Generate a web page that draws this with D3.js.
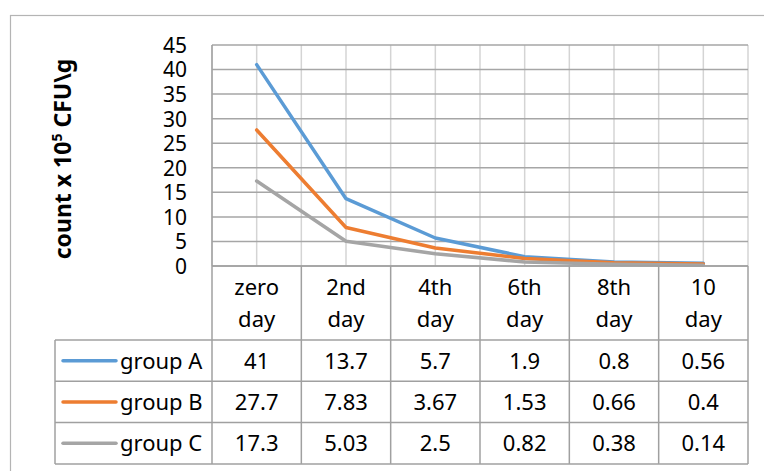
<!DOCTYPE html>
<html>
<head>
<meta charset="utf-8">
<script src="https://cdn.jsdelivr.net/npm/d3@7"></script>
<style>
  html, body { margin: 0; padding: 0; background: #fff; }
  svg { display: block; font-family: "Noto Sans", sans-serif; }
</style>
</head>
<body>
<svg id="chart" width="764" height="471"></svg>
<script>
const categories = ["zero day", "2nd day", "4th day", "6th day", "8th day", "10 day"];
const seriesNames = ["group A", "group B", "group C"];
const groupA = [41, 13.7, 5.7, 1.9, 0.8, 0.56];
const groupB = [27.7, 7.83, 3.67, 1.53, 0.66, 0.4];
const groupC = [17.3, 5.03, 2.5, 0.82, 0.38, 0.14];
const seriesColors = ["#5B9BD5", "#ED7D31", "#A5A5A5"];
const yTicks = [0, 5, 10, 15, 20, 25, 30, 35, 40, 45];

const series = [groupA, groupB, groupC].map((vals, i) => ({ name: seriesNames[i], values: vals, color: seriesColors[i] }));

const svg = d3.select("#chart");
const plotLeft = 212, plotRight = 748, plotTop = 45, plotBottom = 266;
const tableLeft = 55, headerBottom = 340, rowH = 41.3;
const tableBottom = headerBottom + rowH * series.length;

const x = d3.scaleBand().domain(categories).range([plotLeft, plotRight]).padding(0);
const y = d3.scaleLinear().domain([0, 45]).range([plotBottom, plotTop]);
const bw = x.bandwidth();

// outer chart border
svg.append("rect").attr("x", 10.5).attr("y", 15.5).attr("width", 800).attr("height", 500)
  .attr("fill", "none").attr("stroke", "#b4b4b4").attr("stroke-width", 1.2);

// vertical gridlines (band edges and centres)
const vx = [];
categories.forEach(c => { vx.push(x(c)); vx.push(x(c) + bw / 2); });
vx.push(plotRight);
svg.append("g").selectAll("line").data(vx).join("line")
  .attr("x1", d => d).attr("x2", d => d)
  .attr("y1", plotTop).attr("y2", plotBottom)
  .attr("stroke", "#d4d4d4").attr("stroke-width", 1.5);

// horizontal gridlines
svg.append("g").selectAll("line").data(yTicks).join("line")
  .attr("x1", plotLeft).attr("x2", plotRight)
  .attr("y1", d => y(d)).attr("y2", d => y(d))
  .attr("stroke", "#a6a6a6").attr("stroke-width", 1.5);

// y axis labels via d3 axis
const yAxis = d3.axisLeft(y).tickValues(yTicks).tickSize(0).tickPadding(0).tickFormat(d3.format("d"));
const yg = svg.append("g").attr("transform", `translate(187,0)`).call(yAxis);
yg.select(".domain").remove();
yg.selectAll("text").attr("font-size", 21).attr("fill", "#000").attr("font-family", "Noto Sans, sans-serif").attr("dy", "0.35em");

// y axis title
const title = svg.append("text")
  .attr("transform", "translate(71,159) rotate(-90)")
  .attr("text-anchor", "middle")
  .attr("font-size", 23).attr("font-weight", "bold").attr("fill", "#000");
title.append("tspan").text("count x 10");
title.append("tspan").text("5").attr("font-size", 14).attr("dy", -9);
title.append("tspan").text(" CFU\\g").attr("dy", 9);

// lines
const line = d3.line().x((d, i) => x(categories[i]) + bw / 2).y(d => y(d));
svg.append("g").selectAll("path").data(series).join("path")
  .attr("d", d => line(d.values))
  .attr("fill", "none").attr("stroke", d => d.color).attr("stroke-width", 3.5)
  .attr("stroke-linejoin", "round").attr("stroke-linecap", "round");

// data table
const tg = svg.append("g");
const tableStroke = "#a0a0a0";
tg.append("line").attr("x1", plotLeft).attr("x2", plotRight).attr("y1", plotBottom).attr("y2", plotBottom)
  .attr("stroke", tableStroke).attr("stroke-width", 1.5);
const rowYs = d3.range(series.length + 1).map(i => headerBottom + i * rowH);
tg.selectAll("line.row").data(rowYs).join("line").attr("class", "row")
  .attr("x1", tableLeft).attr("x2", plotRight).attr("y1", d => d).attr("y2", d => d)
  .attr("stroke", tableStroke).attr("stroke-width", 1.5);
const colXs = categories.map(c => x(c)).concat([plotRight]);
tg.selectAll("line.col").data(colXs).join("line").attr("class", "col")
  .attr("x1", d => d).attr("x2", d => d)
  .attr("y1", (d, i) => i === 0 ? plotTop : plotBottom).attr("y2", tableBottom)
  .attr("stroke", tableStroke).attr("stroke-width", 1.5);
tg.append("line").attr("x1", tableLeft).attr("x2", tableLeft).attr("y1", headerBottom).attr("y2", tableBottom)
  .attr("stroke", tableStroke).attr("stroke-width", 1.5);

// header text
const hdr = tg.selectAll("text.hdr").data(categories).join("text").attr("class", "hdr")
  .attr("text-anchor", "middle").attr("font-size", 22).attr("fill", "#000");
hdr.each(function (c) {
  const parts = c.split(" ");
  const t = d3.select(this);
  parts.forEach((p, k) => {
    t.append("tspan").attr("x", x(c) + bw / 2).attr("y", 295 + k * 32).text(p);
  });
});

// value cells
series.forEach((s, r) => {
  const cy = headerBottom + r * rowH + rowH / 2;
  tg.selectAll(null).data(s.values).join("text")
    .attr("x", (d, i) => x(categories[i]) + bw / 2).attr("y", cy).attr("dy", "0.36em")
    .attr("text-anchor", "middle").attr("font-size", 22).attr("fill", "#000")
    .text(d => String(d));
  tg.append("line").attr("x1", 63).attr("x2", 116).attr("y1", cy).attr("y2", cy)
    .attr("stroke", s.color).attr("stroke-width", 3.5).attr("stroke-linecap", "round");
  tg.append("text").attr("x", 120).attr("y", cy).attr("dy", "0.36em")
    .attr("font-size", 22).attr("fill", "#000").text(s.name);
});
</script>
</body>
</html>
